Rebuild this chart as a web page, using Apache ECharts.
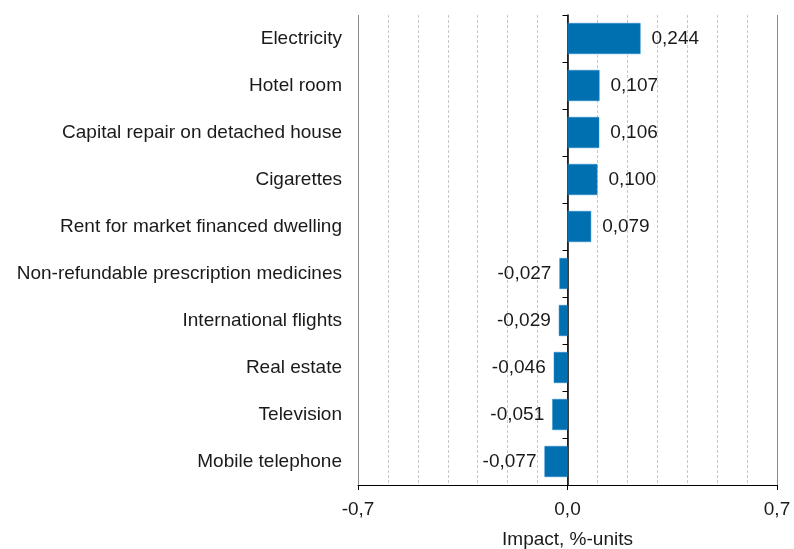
<!DOCTYPE html>
<html><head><meta charset="utf-8">
<script src="https://cdn.jsdelivr.net/npm/echarts@6/dist/echarts.min.js"></script>
<style>html,body{margin:0;padding:0;background:#fff}#c{width:794px;height:549px}</style>
</head><body><div id="c"></div>
<script>
const categories = ["Electricity","Hotel room","Capital repair on detached house","Cigarettes","Rent for market financed dwelling","Non-refundable prescription medicines","International flights","Real estate","Television","Mobile telephone"];
const values = [0.244,0.107,0.106,0.100,0.079,-0.027,-0.029,-0.046,-0.051,-0.077];
const xTickLabels = {"-0.7":"-0,7","0":"0,0","0.7":"0,7"};
const axisName = "Impact, %-units";

const font = "Arial, 'Liberation Sans', sans-serif";
const chart = echarts.init(document.getElementById('c'));
const fmt = v => (v < 0 ? '-' : '') + Math.abs(v).toFixed(3).replace('.', ',');
chart.setOption({
  animation: false,
  grid: {left: 358, right: 17, top: 15, bottom: 64, containLabel: false, outerBoundsMode: 'none'},
  xAxis: [
    {type: 'value', min: -0.7, max: 0.7, interval: 0.1,
     axisLine: {show: false}, axisTick: {show: false}, axisLabel: {show: false},
     splitLine: {show: true, lineStyle: {color: '#c8c8c8', type: [3, 2], width: 1}}},
    {type: 'value', min: -0.7, max: 0.7, interval: 0.7, position: 'bottom',
     axisLine: {show: true, onZero: false, lineStyle: {color: '#000', width: 1}},
     axisTick: {show: true, length: 5, lineStyle: {color: '#000'}},
     axisLabel: {show: true, margin: 15, color: '#1a1a1a', fontSize: 19, fontFamily: font,
       formatter: v => xTickLabels[String(Math.round(v*10)/10)] ?? ''},
     splitLine: {show: true, lineStyle: {color: '#8c8c8c', width: 1}},
     name: axisName, nameLocation: 'middle', nameGap: 45,
     nameTextStyle: {color: '#1a1a1a', fontSize: 19, fontFamily: font}}
  ],
  yAxis: [
    {type: 'category', data: categories, inverse: true, position: 'left',
     axisLine: {show: false, onZero: false}, axisTick: {show: false},
     axisLabel: {color: '#1a1a1a', fontSize: 19, fontFamily: font, margin: 16}},
    {type: 'category', data: categories, inverse: true, position: 'left',
     axisLine: {show: true, onZero: true, onZeroAxisIndex: 0, lineStyle: {color: '#000', width: 1.5}},
     axisTick: {show: true, length: 5, lineStyle: {color: '#000'}},
     axisLabel: {show: false}}
  ],
  series: [{
    type: 'bar', xAxisIndex: 0, yAxisIndex: 0,
    data: values.map(v => v < 0 ? {value: v, label: {position: 'left', distance: 8}} : v),
    barCategoryGap: '34%',
    itemStyle: {color: '#0070b0', borderColor: '#2a8ccc', borderWidth: 0.5},
    label: {show: true, position: 'right', distance: 11, color: '#1a1a1a', fontSize: 19, fontFamily: font,
      formatter: p => fmt(p.value)}
  }]
});
</script></body></html>
